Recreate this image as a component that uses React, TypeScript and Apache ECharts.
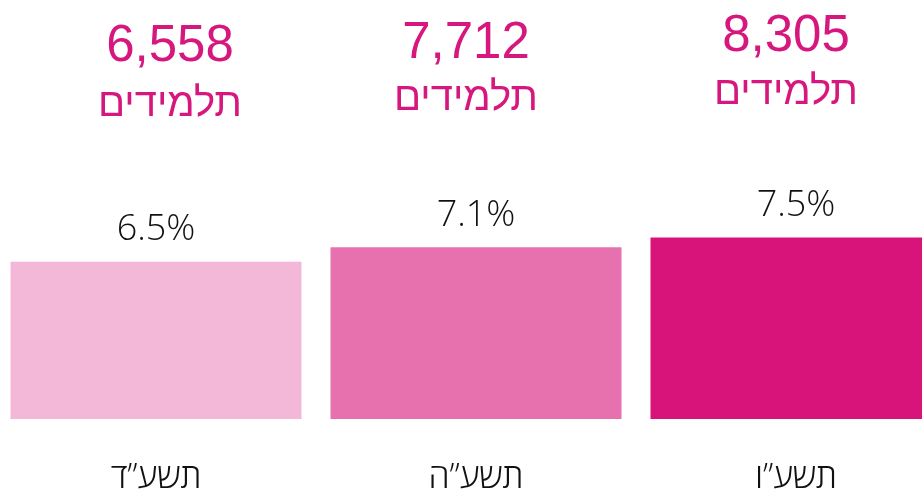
import React, { useEffect, useRef } from "react";
import * as echarts from "echarts";

const categories = ["תשע”ד", "תשע”ה", "תשע”ו"];
const percentValues = [6.5, 7.1, 7.5];
const studentCounts = ["6,558", "7,712", "8,305"];
const studentWord = "תלמידים";
const barColors = ["#F3B7D7", "#E770AF", "#D8137A"];

// layout of the headline annotations (pixels, relative to the chart div)
const OFFSET_X = 4;
const headX = [170, 466, 786];
const headNumY = [43, 40, 33];
const headWordY = [102, 96, 90];

export default function App() {
  const ref = useRef<HTMLDivElement>(null);
  useEffect(() => {
    if (!ref.current) return;
    const chart = echarts.init(ref.current, undefined, { renderer: "svg" });
    const graphics: any[] = [];
    categories.forEach((_, i) => {
      graphics.push({
        type: "text",
        x: headX[i] + OFFSET_X,
        y: headNumY[i],
        style: {
          text: studentCounts[i],
          fill: "#D6177E",
          font: "51px 'Liberation Sans', Arial, sans-serif",
          align: "center",
          verticalAlign: "middle",
        },
      });
      graphics.push({
        type: "text",
        x: headX[i] + OFFSET_X,
        y: headWordY[i],
        style: {
          text: studentWord,
          fill: "#D6177E",
          font: "40px 'Liberation Sans', Arial, sans-serif",
          align: "center",
          verticalAlign: "middle",
        },
      });
    });
    chart.setOption({
      animation: false,
      grid: { left: 0, right: 0, top: 177, bottom: 80, containLabel: false },
      xAxis: {
        type: "category",
        data: categories,
        axisLine: { show: false },
        axisTick: { show: false },
        axisLabel: {
          margin: 41,
          fontSize: 34,
          lineHeight: 30,
          fontFamily: "'Open Sans', 'DejaVu Sans', sans-serif",
          fontWeight: 300,
          color: "#111",
        },
      },
      yAxis: { type: "value", min: 0, max: 10, show: false, splitLine: { show: false } },
      series: [
        {
          type: "bar",
          barWidth: 291,
          data: percentValues.map((v, i) => ({ value: v, itemStyle: { color: barColors[i] } })),
          label: {
            show: true,
            position: "top",
            distance: 17,
            formatter: (p: any) => p.value + "%",
            fontSize: 36,
            fontFamily: "'Open Sans', sans-serif",
            fontWeight: 300,
            color: "#111",
          },
        },
      ],
      graphic: graphics,
    });
    return () => chart.dispose();
  }, []);
  return (
    <div
      ref={ref}
      style={{ width: 960, height: 499, position: "fixed", left: -OFFSET_X, top: 0 }}
    />
  );
}
